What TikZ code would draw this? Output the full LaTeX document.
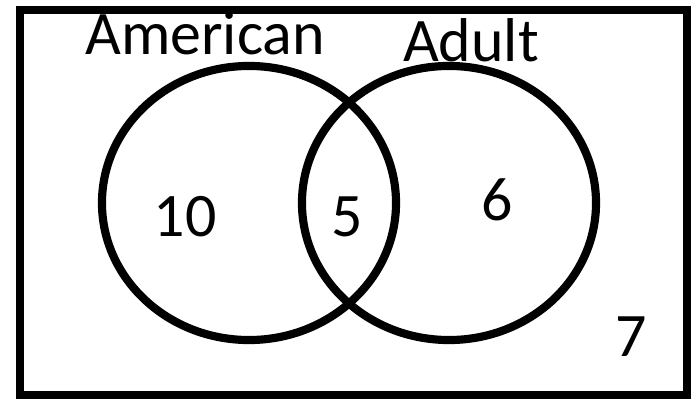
\documentclass[tikz,border=0pt]{standalone}
\usepackage{fontspec}
\setmainfont{Carlito}
\usetikzlibrary{shapes.geometric}

\begin{document}
\begin{tikzpicture}[
  x=0.025cm,y=-0.025cm,
  font=\fontsize{44}{50}\selectfont,
  setring/.style={ellipse,draw=black,line width=5.8pt,inner sep=0pt,
    minimum width=7.35cm,minimum height=6.85cm},
  frame/.style={draw=black,line width=5.7pt},
  label/.style={anchor=base,inner sep=0pt}
]
\useasboundingbox (0,0) rectangle (693,400);
\draw[frame] (20,10) rectangle (687,395);

\node[setring] (american) at (249,203) {};
\node[setring] (adult) at (449,203) {};

\node[label] (americanname) at (205,55) {American};
\node[label] (adultname) at (471,62) {Adult};

\node[label] (onlyamerican) at (185,237) {10};
\node[label] (both) at (347,237) {5};
\node[label] (onlyadult) at (497,221) {6};
\node[label] (neither) at (631,357) {7};
\end{tikzpicture}
\end{document}
